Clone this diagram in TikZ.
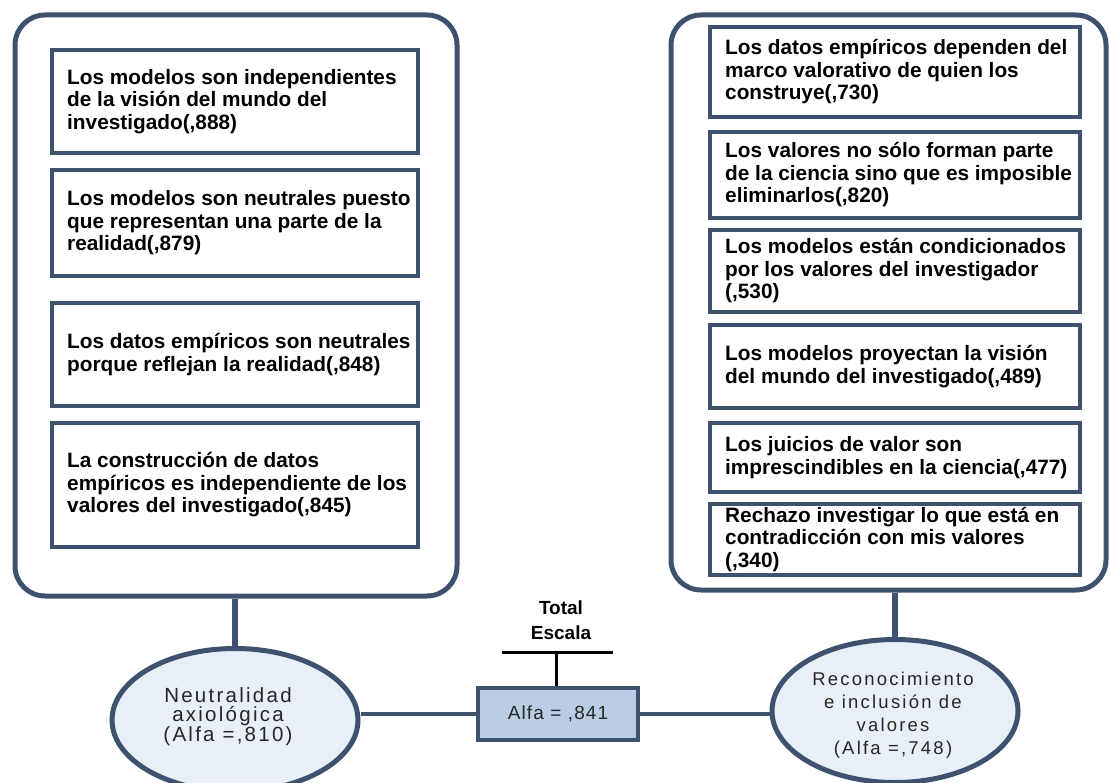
\documentclass[tikz,border=0pt]{standalone}
\usepackage{fontspec}
\setmainfont{Liberation Sans}
\newfontfamily\boxfont{Liberation Sans}
\newfontfamily\ellfontL{Liberation Sans}[LetterSpace=11]
\newfontfamily\ellfontR{Liberation Sans}[LetterSpace=12]
\newfontfamily\alfafont{Liberation Sans}[LetterSpace=6]
\usetikzlibrary{shapes.geometric}
\definecolor{slate}{RGB}{62,82,112}
\definecolor{ellfill}{RGB}{233,239,247}
\definecolor{alfafill}{RGB}{185,205,229}
\begin{document}
\begin{tikzpicture}[x=1pt,y=-1pt,
  bigframe/.style={draw=slate, line width=5pt, rounded corners=30pt, rectangle, inner sep=0pt},
  ibox/.style={draw=slate, line width=4pt, rectangle, inner sep=0pt, minimum width=#1},
  itext/.style={anchor=west, align=left, inner sep=0pt, text=black,
     font=\boxfont\bfseries\fontsize{20.8}{22.5}\selectfont},
  ell/.style={draw=slate, fill=ellfill, line width=5pt, ellipse, inner sep=0pt,
     minimum width=246pt, minimum height=143pt},
  elltext/.style={align=center, inner sep=0pt, text=black!85},
  vconn/.style={draw=slate, line width=6pt},
  hconn/.style={draw=slate, line width=3.5pt},
  alfabox/.style={draw=slate, fill=alfafill, line width=4pt, rectangle, inner sep=0pt,
     minimum width=160pt, minimum height=52pt, text=black!85,
     font=\alfafont\fontsize{19}{22}\selectfont},
]
\useasboundingbox (0,0) rectangle (1110,783);
\clip (0,0) rectangle (1110,783);

% big frames
\node[bigframe, minimum width=442pt, minimum height=581pt] (L) at (236,305.5) {};
\node[bigframe, minimum width=435pt, minimum height=575pt] (R) at (888.5,302.5) {};

% left inner boxes
\node[ibox=366pt, minimum height=103pt] (l1) at (235,101.5) {};
\node[ibox=366pt, minimum height=106pt] (l2) at (235,223) {};
\node[ibox=366pt, minimum height=103pt] (l3) at (235,354.5) {};
\node[ibox=366pt, minimum height=124pt] (l4) at (235,485) {};
\node[itext] (l1t) at (67,101.5) {Los modelos son independientes\\de la visión del mundo del\\investigado(,888)};
\node[itext] (l2t) at (67,223) {Los modelos son neutrales puesto\\que representan una parte de la\\realidad(,879)};
\node[itext] (l3t) at (67,354.5) {Los datos empíricos son neutrales\\porque reflejan la realidad(,848)};
\node[itext] (l4t) at (67,485) {La construcción de datos\\empíricos es independiente de los\\valores del investigado(,845)};

% right inner boxes
\node[ibox=370pt, minimum height=90pt] (r1) at (895,72) {};
\node[ibox=370pt, minimum height=86pt] (r2) at (895,175) {};
\node[ibox=370pt, minimum height=82pt] (r3) at (895,271) {};
\node[ibox=370pt, minimum height=83pt] (r4) at (895,366.5) {};
\node[ibox=370pt, minimum height=69pt] (r5) at (895,457.5) {};
\node[ibox=370pt, minimum height=71pt] (r6) at (895,539.5) {};
\node[itext] (r1t) at (725,72) {Los datos empíricos dependen del\\marco valorativo de quien los\\construye(,730)};
\node[itext] (r2t) at (725,175) {Los valores no sólo forman parte\\de la ciencia sino que es imposible\\eliminarlos(,820)};
\node[itext] (r3t) at (725,271) {Los modelos están condicionados\\por los valores del investigador\\(,530)};
\node[itext] (r4t) at (725,366.5) {Los modelos proyectan la visión\\del mundo del investigado(,489)};
\node[itext] (r5t) at (725,457.5) {Los juicios de valor son\\imprescindibles en la ciencia(,477)};
\node[itext] (r6t) at (725,539.5) {Rechazo investigar lo que está en\\contradicción con mis valores\\(,340)};

% ellipses
\node[ell] (le) at (235,720) {};
\node[elltext, font=\ellfontL\fontsize{20.5}{19}\selectfont] (let) at (228,716.5) {Neutralidad\\axiológica\\(Alfa =,810)};
\node[ell] (re) at (895,711) {};
\node[elltext, font=\ellfontR\fontsize{18.5}{23}\selectfont] (ret) at (893,715) {Reconocimiento\\e inclusión de\\valores\\(Alfa =,748)};

% total box
\node[alfabox] (ab) at (558,714) {Alfa = ,841};
\node[align=center, inner sep=0pt, font=\bfseries\fontsize{19}{25}\selectfont] (tot) at (561,620) {Total\\Escala};
\coordinate (tl) at (502,652);
\coordinate (tr) at (613,652);
\coordinate (tm) at (556,652);
\draw[black, line width=3pt] (tl) -- (tr);
\draw[black, line width=3pt] (tm) -- (tm |- ab.north);

% connectors
\draw[vconn] (L.south -| le.north) -- (le.north);
\draw[vconn] (R.south -| re.north) -- (re.north);
\draw[hconn] (ab.west) -- (le.east |- ab.west);
\draw[hconn] (ab.east) -- (re.west |- ab.east);
\end{tikzpicture}
\end{document}
